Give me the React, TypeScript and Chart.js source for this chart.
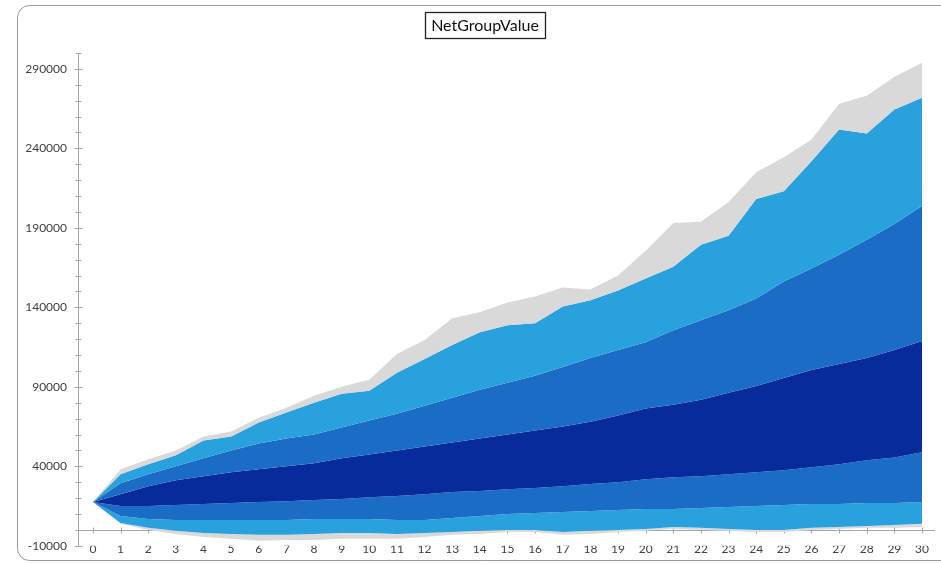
import React, { useEffect, useRef } from "react";
import { Chart, registerables } from "chart.js";

Chart.register(...registerables);

// Projection horizon (years) and percentile envelopes of the group's net value
const steps = [0, 1, 2, 3, 4, 5, 6, 7, 8, 9, 10, 11, 12, 13, 14, 15, 16, 17, 18, 19, 20, 21, 22, 23, 24, 25, 26, 27, 28, 29, 30];

const outerHigh = [17500, 38100, 44400, 50000, 58800, 61900, 70600, 76900, 84400, 90000, 94400, 110600, 119400, 133100, 136900, 143100, 146900, 152500, 151300, 160000, 175600, 193100, 193800, 206300, 225000, 234400, 245600, 268100, 273100, 285000, 293800];
const wideHigh = [17500, 35000, 41300, 46900, 56300, 58800, 67500, 73800, 80000, 85600, 87500, 98800, 107500, 116300, 124400, 128800, 130000, 140600, 144400, 150600, 158100, 165600, 179400, 185000, 208100, 213100, 231900, 251900, 249400, 264400, 271900];
const midHigh = [17500, 29400, 35000, 40000, 45000, 50000, 54400, 57500, 60000, 64400, 68800, 73100, 78100, 83100, 88100, 92500, 96900, 102500, 108100, 113100, 118100, 125600, 131900, 138100, 145600, 156300, 164400, 173100, 182500, 192500, 203800];
const innerHigh = [17500, 22500, 27500, 31300, 33800, 36300, 38100, 40000, 41900, 45000, 47500, 50000, 52500, 55000, 57500, 60000, 62500, 65000, 68100, 71900, 76300, 78800, 81900, 86300, 90600, 95600, 100600, 104400, 108100, 113100, 118800];
const median = [17500, 19400, 21300, 23100, 25000, 26900, 28800, 30000, 31300, 33100, 34400, 36300, 38100, 40000, 41300, 43100, 45000, 46900, 48800, 50600, 53100, 55000, 56900, 58800, 61300, 63800, 66300, 68800, 71300, 73800, 76900];
const innerLow = [17500, 15000, 15000, 15600, 16300, 16900, 17500, 18100, 18800, 19400, 20600, 21300, 22500, 23800, 24400, 25600, 26300, 27500, 28800, 30000, 31900, 33100, 33800, 35000, 36300, 37500, 39400, 41300, 43800, 45600, 48800];
const midLow = [17500, 8800, 6900, 6300, 6300, 6300, 6300, 6300, 6900, 6900, 6900, 6300, 6300, 7500, 8800, 10000, 10600, 11300, 11900, 12500, 13100, 13100, 13800, 14400, 15000, 15600, 16300, 16300, 16900, 16900, 17500];
const wideLow = [17500, 4400, 1300, -600, -1900, -2500, -3100, -3100, -2500, -1900, -1900, -2500, -1900, -1300, -600, 0, 0, -1300, -600, 0, 600, 1900, 1300, 600, 0, 0, 1300, 1900, 2500, 3100, 3800];
const outerLow = [17500, 3800, 0, -2500, -4400, -5600, -6900, -6300, -6300, -5600, -5600, -5600, -4400, -3100, -2500, -1300, -1300, -3100, -2500, -1300, -600, 600, 0, -600, -1300, -1300, 0, 600, 1300, 1300, 1900];

const yTickValues = [-10000, 40000, 90000, 140000, 190000, 240000, 290000];
const yMinorStep = 10000;
const chartTitle = "NetGroupValue";

const GREY = "#d9d9d9";
const LIGHT = "#29a1dd";
const MID = "#1b6cc4";
const DARK = "#072b9b";
const AXIS = "#a6a6a6";
const TEXT = "#404040";

const FONT = "Lato, 'Open Sans', sans-serif";

const points = (vals: number[]) => steps.map((s, i) => ({ x: s, y: vals[i] }));

const band = (label: string, vals: number[], color: string | null, fill: any = "+1", line = "rgba(0,0,0,0)", width = 0) => ({
  label,
  data: points(vals),
  borderWidth: width,
  borderColor: line,
  pointRadius: 0,
  pointHoverRadius: 0,
  tension: 0,
  backgroundColor: color ?? "rgba(0,0,0,0)",
  fill: color ? fill : false,
});

const decorations = {
  id: "decorations",
  beforeDraw(chart: any) {
    const ctx = chart.ctx;
    ctx.save();
    // rounded frame around the whole panel
    ctx.strokeStyle = "#9a9a9a";
    ctx.lineWidth = 1;
    const x0 = 17.5, y0 = 5.5, x1 = 960, y1 = 560.5, r = 12;
    ctx.beginPath();
    ctx.moveTo(x0 + r, y0);
    ctx.lineTo(x1, y0);
    ctx.moveTo(x1, y1);
    ctx.lineTo(x0 + r, y1);
    ctx.arcTo(x0, y1, x0, y1 - r, r);
    ctx.lineTo(x0, y0 + r);
    ctx.arcTo(x0, y0, x0 + r, y0, r);
    ctx.stroke();

    // boxed title
    ctx.font = `16px ${FONT}`;
    ctx.fillStyle = "#111";
    ctx.textAlign = "center";
    ctx.textBaseline = "middle";
    const cx = 485, cy = 26;
    ctx.fillText(chartTitle, cx, cy);
    const w = ctx.measureText(chartTitle).width;
    ctx.strokeStyle = "#222";
    ctx.lineWidth = 1.3;
    ctx.strokeRect(Math.round(cx - w / 2 - 6) + 0.5, 12.5, Math.round(w + 12), 26);
    ctx.restore();
  },
  beforeDatasetsDraw(chart: any) {
    const ctx = chart.ctx;
    const { left, right, top, bottom } = chart.chartArea;
    const xs = chart.scales.x;
    const ys = chart.scales.y;
    ctx.save();
    ctx.strokeStyle = AXIS;
    ctx.lineWidth = 1;
    // vertical axis with minor and major ticks
    const ax = Math.round(left) + 0.5;
    ctx.beginPath();
    ctx.moveTo(ax, top);
    ctx.lineTo(ax, bottom);
    for (let v = ys.min; v <= ys.max + 1; v += yMinorStep) {
      const py = Math.round(ys.getPixelForValue(v)) + 0.5;
      const major = yTickValues.includes(v);
      const half = major ? 4 : 3;
      ctx.moveTo(ax - half, py);
      ctx.lineTo(ax + half, py);
    }
    // horizontal axis crossing at zero
    const zy = Math.round(ys.getPixelForValue(0)) + 0.5;
    ctx.moveTo(left, zy);
    ctx.lineTo(right, zy);
    for (const s of steps) {
      const px = Math.round(xs.getPixelForValue(s)) + 0.5;
      ctx.moveTo(px, zy - 3);
      ctx.lineTo(px, zy + 3);
    }
    ctx.stroke();
    ctx.restore();
  },
};

export default function App() {
  const canvasRef = useRef<HTMLCanvasElement | null>(null);

  useEffect(() => {
    if (!canvasRef.current) return;
    const chart = new Chart(canvasRef.current, {
      type: "line",
      data: {
        datasets: [
          band("outerHigh", outerHigh, GREY),
          band("wideHigh", wideHigh, LIGHT),
          band("midHigh", midHigh, MID),
          // the central band spans innerHigh..innerLow in one fill
          band("innerHigh", innerHigh, DARK, "+2"),
          band("median", median, null, false, "rgba(90,120,210,0.18)", 1),
          band("innerLow", innerLow, MID),
          band("midLow", midLow, LIGHT),
          band("wideLow", wideLow, GREY),
          band("outerLow", outerLow, null),
        ] as any,
      },
      options: {
        animation: false,
        responsive: false,
        maintainAspectRatio: false,
        events: [],
        layout: { padding: { left: 0, right: 6, top: 53, bottom: 0 } },
        plugins: {
          legend: { display: false },
          title: { display: false },
          tooltip: { enabled: false },
        },
        scales: {
          x: {
            type: "linear",
            min: -0.54,
            max: 30.47,
            grid: { display: false, drawTicks: false },
            border: { display: false },
            ticks: {
              padding: -4,
              color: TEXT,
              font: { family: FONT, size: 12 },
              maxRotation: 0,
              autoSkip: false,
              callback: (v: any) => String(v),
            },
            afterBuildTicks: (scale: any) => {
              scale.ticks = steps.map((s) => ({ value: s }));
            },
            afterFit: (scale: any) => {
              scale.height = 15;
            },
          },
          y: {
            type: "linear",
            min: -10000,
            max: 300000,
            grid: { display: false, drawTicks: false },
            border: { display: false },
            ticks: {
              padding: 11,
              color: TEXT,
              font: { family: FONT, size: 12 },
              callback: (v: any) => String(v),
            },
            afterBuildTicks: (scale: any) => {
              scale.ticks = yTickValues.map((v) => ({ value: v }));
            },
            afterFit: (scale: any) => {
              scale.width = 78;
            },
          },
        },
      } as any,
      plugins: [decorations],
    });
    return () => chart.destroy();
  }, []);

  return (
    <div style={{ position: "fixed", left: 0, top: 0, width: 941, height: 564, background: "#fff" }}>
      <canvas ref={canvasRef} width={941} height={564} style={{ width: 941, height: 564, display: "block" }} />
    </div>
  );
}
